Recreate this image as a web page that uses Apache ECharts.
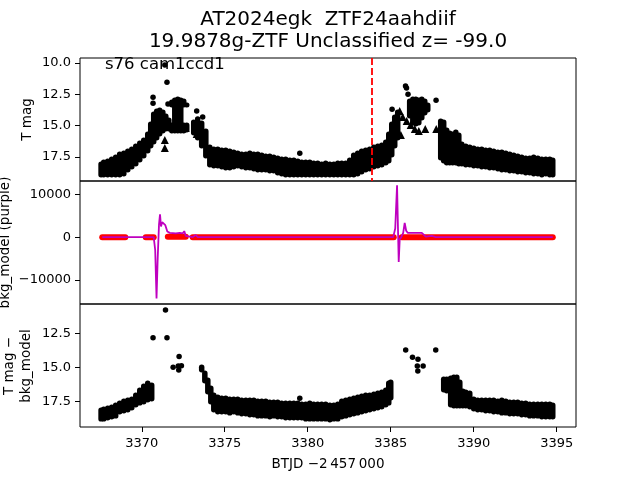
<!DOCTYPE html>
<html>
<head>
<meta charset="utf-8">
<script src="https://cdn.jsdelivr.net/npm/echarts@6/dist/echarts.min.js"></script>
<style>html,body{margin:0;padding:0;background:#fff}#c{width:640px;height:480px}</style>
</head>
<body>
<div id="c"></div>
<script>
// ---- axis ranges & ticks ----
const xRange = [3366.28, 3396.16];
const xTicks = [3370, 3375, 3380, 3385, 3390, 3395];
const magRange = [9.6, 19.42];
const magTicks = [10, 12.5, 15, 17.5];
const bkgRange = [-15600, 13100];
const bkgTicks = [-10000, 0, 10000];
const subRange = [10.37, 19.35];
const subTicks = [12.5, 15, 17.5];
const flagTime = 3383.84;

// ---- panel 1: T mag, dense band as [time, bright edge, faint edge] ----
const magBand = [
 [3367.55,17.90,19.10],[3367.71,17.74,19.10],[3367.95,17.66,19.10],[3368.19,17.50,19.10],
 [3368.43,17.34,19.10],[3368.67,17.10,19.10],[3368.92,17.02,19.02],[3369.16,16.86,18.70],
 [3369.40,16.70,18.46],[3369.64,16.46,18.22],[3369.88,16.23,17.90],[3370.12,15.99,17.58],
 [3370.36,15.51,17.18],[3370.54,14.71,16.78],[3370.72,13.91,16.46],[3370.90,13.67,16.15],
 [3371.08,13.59,15.83],[3371.27,13.75,15.59],[3371.45,14.07,15.43],[3371.63,14.39,15.43],
 [3371.81,12.95,13.51],[3371.81,14.79,15.59],[3371.99,12.79,15.59],[3372.17,12.71,15.59],
 [3372.35,12.79,15.59],[3372.53,12.87,13.51],[3372.53,14.79,15.59],[3372.71,13.19,13.51],
 [3372.71,14.79,15.51],
 [3373.13,14.55,15.75],[3373.37,14.47,16.15],[3373.61,14.63,16.78],[3373.86,15.27,17.58],
 [3374.10,16.54,18.30],[3374.34,16.70,18.38],[3374.58,16.70,18.38],[3374.82,16.78,18.46],
 [3375.06,16.78,18.54],[3375.30,16.86,18.54],[3375.54,16.94,18.46],[3375.78,17.02,18.38],
 [3376.02,17.10,18.46],[3376.27,17.10,18.54],[3376.51,17.02,18.54],[3376.75,17.10,18.62],
 [3376.99,17.10,18.70],[3377.23,17.18,18.70],[3377.47,17.26,18.70],[3377.71,17.26,18.78],
 [3377.95,17.34,18.78],[3378.19,17.42,18.94],[3378.43,17.50,19.02],[3378.67,17.50,19.10],
 [3378.92,17.58,19.10],[3379.16,17.58,19.10],[3379.40,17.66,19.10],[3379.64,17.74,19.10],
 [3379.88,17.74,19.10],[3380.12,17.74,19.10],[3380.36,17.82,19.10],[3380.60,17.82,19.10],
 [3380.84,17.90,19.10],[3381.08,17.82,19.10],[3381.33,17.90,19.10],[3381.57,17.90,19.10],
 [3381.81,17.82,19.10],[3382.05,17.82,19.10],[3382.29,17.82,19.10],[3382.53,17.58,19.10],
 [3382.77,17.18,19.10],[3383.01,17.02,19.02],[3383.25,16.86,18.86],[3383.49,16.78,18.70],
 [3383.73,16.70,18.62],[3383.98,16.54,18.46],[3384.22,16.46,18.38],[3384.46,16.38,18.30],
 [3384.70,16.15,18.14],[3384.88,15.51,17.98],[3385.06,14.71,17.50],[3385.24,14.15,16.78],
 [3385.42,13.75,16.15],
 [3386.14,12.87,14.39],[3386.33,12.71,14.95],[3386.51,12.71,15.03],[3386.69,12.79,14.95],
 [3386.87,12.71,14.55],[3387.05,12.87,14.15],[3387.23,13.19,13.91],
 [3388.01,14.47,17.74],[3388.19,14.55,17.98],[3388.37,15.19,18.14],[3388.55,15.43,18.14],
 [3388.73,15.51,18.14],[3388.92,15.35,18.14],[3389.10,15.59,18.22],[3389.28,16.30,18.22],
 [3389.52,16.46,18.30],[3389.76,16.54,18.30],[3390.00,16.62,18.38],[3390.24,16.70,18.38],
 [3390.48,16.70,18.46],[3390.72,16.78,18.46],[3390.96,16.78,18.54],[3391.20,16.86,18.54],
 [3391.45,16.94,18.62],[3391.69,16.94,18.70],[3391.93,17.02,18.70],[3392.17,17.10,18.78],
 [3392.41,17.18,18.78],[3392.65,17.26,18.86],[3392.89,17.34,18.86],[3393.13,17.42,18.94],
 [3393.37,17.42,18.94],[3393.61,17.34,19.02],[3393.86,17.42,19.02],[3394.10,17.50,19.10],
 [3394.34,17.50,19.02],[3394.58,17.50,19.10],[3394.76,17.58,19.10]
];
const magDots = [
 [3371.39,10.16],[3371.52,11.54],[3370.68,12.74],[3370.68,13.22],[3371.58,13.27],
 [3373.31,13.83],[3373.37,14.47],[3373.67,14.31],[3379.52,17.21],
 [3385.08,13.70],[3385.89,11.84],[3385.95,12.00],[3386.04,12.50],[3387.73,12.98]
];
const magLimits = [
 [3371.39,16.15],[3371.39,16.78],[3372.65,15.19],[3373.30,15.19],[3373.31,15.67],
 [3385.54,13.83],[3385.61,15.75],[3385.72,14.31],[3385.96,14.63],[3386.20,14.95],
 [3386.45,15.27],[3386.69,15.43],[3387.08,15.27],[3387.74,15.27]
];

// ---- panel 2: background model ----
const bkgCurve = [
 [3367.62,0],[3370.72,0],[3370.81,-3000],[3370.89,-14300],[3370.96,-5000],[3371.04,3000],
 [3371.10,5300],[3371.16,2500],[3371.23,3500],[3371.33,3900],[3371.42,2800],[3371.54,1300],
 [3371.69,1000],[3372.05,900],[3372.29,1000],[3372.47,900],[3372.56,1400],[3372.65,300],
 [3372.77,0],[3373.07,0],[3373.25,500],[3373.37,0],[3385.15,0],[3385.27,2000],
 [3385.38,12100],[3385.43,3000],[3385.48,-5800],[3385.54,-500],[3385.63,0],[3385.75,1000],
 [3385.84,3300],[3385.93,1500],[3386.02,1000],[3386.87,1000],[3386.99,1300],[3387.11,100],
 [3387.47,300],[3387.71,0],[3394.76,0]
];
// red points: runs of samples [start time, end time, level]
const bkgPoints = [
 [3367.62,3369.01,0],[3370.24,3370.72,0],[3371.57,3372.65,100],
 [3373.07,3385.18,0],[3385.66,3394.76,0]
];

// ---- panel 3: T mag - bkg_model ----
const subBand = [
 [3367.55,17.96,18.92],[3367.71,17.89,18.92],[3367.95,17.82,18.84],[3368.19,17.75,18.77],
 [3368.43,17.60,18.70],[3368.67,17.45,18.40],[3368.92,17.31,18.33],[3369.16,17.23,18.26],
 [3369.40,17.16,18.11],[3369.64,16.87,17.89],[3369.88,16.50,17.75],[3370.12,16.21,17.67],
 [3370.36,15.99,17.53],[3370.60,16.14,17.45],
 [3373.61,14.82,15.33],[3373.80,15.26,16.14],[3373.98,15.77,16.94],[3374.16,16.36,17.67],
 [3374.34,16.87,18.26],[3374.58,17.01,18.40],[3374.82,17.09,18.40],[3375.06,17.09,18.40],
 [3375.30,17.16,18.48],[3375.54,17.16,18.40],[3375.78,17.16,18.48],[3376.02,17.23,18.55],
 [3376.27,17.23,18.55],[3376.51,17.23,18.62],[3376.75,17.23,18.62],[3376.99,17.31,18.70],
 [3377.23,17.31,18.70],[3377.47,17.31,18.70],[3377.71,17.38,18.77],[3377.95,17.38,18.70],
 [3378.19,17.38,18.77],[3378.43,17.45,18.77],[3378.67,17.45,18.84],[3378.92,17.45,18.84],
 [3379.16,17.45,18.84],[3379.40,17.45,18.84],[3379.64,17.53,18.84],[3379.88,17.53,18.92],
 [3380.12,17.45,18.92],[3380.36,17.53,18.92],[3380.60,17.53,18.92],[3380.84,17.53,18.92],
 [3381.08,17.53,18.92],[3381.33,17.60,18.99],[3381.57,17.60,18.92],[3381.81,17.53,18.92],
 [3382.05,17.31,18.77],[3382.29,17.23,18.70],[3382.53,17.16,18.62],[3382.77,17.09,18.55],
 [3383.01,17.01,18.48],[3383.25,16.94,18.40],[3383.49,16.87,18.33],[3383.73,16.87,18.26],
 [3383.98,16.79,18.18],[3384.22,16.72,18.11],[3384.46,16.65,18.04],[3384.70,16.50,17.89],
 [3384.88,15.99,17.75],[3385.00,15.92,17.38],
 [3388.19,15.70,16.79],[3388.37,15.70,16.87],[3388.61,15.62,17.89],[3388.80,15.55,17.96],
 [3388.98,15.55,17.96],[3389.16,15.92,17.96],[3389.34,16.57,17.96],[3389.52,16.65,17.96],
 [3389.76,16.72,18.04],[3390.00,17.16,18.18],[3390.24,17.23,18.26],[3390.48,17.23,18.26],
 [3390.72,17.23,18.33],[3390.96,17.23,18.33],[3391.20,17.23,18.40],[3391.45,17.31,18.40],
 [3391.69,17.23,18.48],[3391.93,17.31,18.48],[3392.17,17.38,18.55],[3392.41,17.38,18.55],
 [3392.65,17.38,18.55],[3392.89,17.45,18.62],[3393.13,17.45,18.62],[3393.37,17.53,18.70],
 [3393.61,17.53,18.70],[3393.86,17.53,18.70],[3394.10,17.53,18.77],[3394.34,17.53,18.77],
 [3394.58,17.53,18.77],[3394.76,17.60,18.77]
];
const subDots = [
 [3371.43,10.80],[3370.68,12.84],[3371.52,12.84],[3372.25,14.21],[3371.89,14.99],
 [3372.20,14.89],[3372.23,15.18],[3372.39,14.87],[3379.52,17.25],
 [3385.90,13.72],[3386.31,14.26],[3386.64,14.40],[3386.60,14.89],[3386.63,15.26],
 [3386.95,14.89],[3387.71,13.72]
];

// ---- texts ----
const titleLines = ['AT2024egk  ZTF24aahdiif', '19.9878g-ZTF Unclassified z= -99.0'];
const sectorText = 's76 cam1ccd1';
const yNames = ['T mag', 'bkg_model (purple)', 'T mag \u2212', 'bkg_model'];
const xName = 'BTJD \u22122\u2009457\u2009000';

const FONT = '"DejaVu Sans", "Liberation Sans", sans-serif';
const L = 80, W = 496, H = 123, TOPS = [58, 181, 304];

function bandRender(params, api) {
  const t = api.value(0);
  const p1 = api.coord([t, api.value(1)]);
  const p2 = api.coord([t, api.value(2)]);
  const w = 5.5;
  const y0 = Math.min(p1[1], p2[1]) - 0.5;
  return {type: 'rect',
    shape: {x: p1[0] - w / 2, y: y0, width: w, height: Math.abs(p2[1] - p1[1]) + 1, r: 2.7},
    style: {fill: '#000'}};
}
function spanRender(params, api) {
  const p1 = api.coord([api.value(0), api.value(2)]);
  const p2 = api.coord([api.value(1), api.value(2)]);
  return {type: 'line', shape: {x1: p1[0], y1: p1[1], x2: p2[0], y2: p2[1]},
    style: {stroke: '#ff0000', lineWidth: 6, lineCap: 'round'}};
}
const minus = v => (v < 0 ? '\u2212' + Math.abs(v) : String(v));

function xAxisFor(i) {
  const bottom = i === 2;
  return {type: 'value', gridIndex: i, min: xRange[0], max: xRange[1],
    axisLine: {show: false}, splitLine: {show: false},
    axisTick: {show: bottom, inside: false, length: 5, customValues: xTicks, lineStyle: {color: '#000', width: 1}},
    axisLabel: {show: bottom, customValues: xTicks, formatter: v => String(v), margin: 10, color: '#000', fontSize: 13, fontFamily: FONT}};
}
function yAxisFor(i, range, ticks, fmt, inverse) {
  return {type: 'value', gridIndex: i, min: range[0], max: range[1], inverse: inverse,
    axisLine: {show: false}, splitLine: {show: false},
    axisTick: {show: true, inside: false, length: 5, customValues: ticks, lineStyle: {color: '#000', width: 1}},
    axisLabel: {show: true, customValues: ticks, formatter: fmt, margin: 9, color: '#000', fontSize: 13, fontFamily: FONT}};
}

const chart = echarts.init(document.getElementById('c'), null, {renderer: 'canvas'});
const textStyleBase = {fill: '#000', fontFamily: FONT};
const dotStyle = {color: '#000', opacity: 1};
chart.setOption({
  animation: false,
  backgroundColor: '#fff',
  grid: TOPS.map(t => ({left: L, top: t, width: W, height: H, show: true, borderColor: '#000', borderWidth: 1, backgroundColor: 'transparent'})),
  xAxis: [0, 1, 2].map(xAxisFor),
  yAxis: [
    yAxisFor(0, magRange, magTicks, v => v.toFixed(1), true),
    yAxisFor(1, bkgRange, bkgTicks, minus, false),
    yAxisFor(2, subRange, subTicks, v => v.toFixed(1), true)
  ],
  series: [
    {type: 'custom', xAxisIndex: 0, yAxisIndex: 0, clip: true, renderItem: bandRender,
      encode: {x: 0, y: [1, 2]}, data: magBand, z: 2,
      markLine: {silent: true, symbol: ['none', 'none'], label: {show: false},
        lineStyle: {color: '#ff0000', type: [7, 3], width: 1.8, opacity: 1},
        emphasis: {disabled: true}, data: [{xAxis: flagTime}]}},
    {type: 'scatter', xAxisIndex: 0, yAxisIndex: 0, symbol: 'circle', symbolSize: 5.5,
      itemStyle: dotStyle, data: magDots, z: 3},
    {type: 'scatter', xAxisIndex: 0, yAxisIndex: 0, symbol: 'triangle', symbolSize: 8,
      itemStyle: dotStyle, data: magLimits, z: 3},
    {type: 'custom', xAxisIndex: 1, yAxisIndex: 1, clip: true, renderItem: spanRender,
      encode: {x: [0, 1], y: 2}, data: bkgPoints, z: 2},
    {type: 'line', xAxisIndex: 1, yAxisIndex: 1, data: bkgCurve, showSymbol: false, symbol: 'none',
      lineStyle: {color: '#bf00bf', width: 1.8}, z: 4},
    {type: 'custom', xAxisIndex: 2, yAxisIndex: 2, clip: true, renderItem: bandRender,
      encode: {x: 0, y: [1, 2]}, data: subBand, z: 2},
    {type: 'scatter', xAxisIndex: 2, yAxisIndex: 2, symbol: 'circle', symbolSize: 5.5,
      itemStyle: dotStyle, data: subDots, z: 3}
  ],
  graphic: [
    {type: 'text', x: 328, y: 20, z: 10, style: Object.assign({text: titleLines[0], fontSize: 20, align: 'center', verticalAlign: 'middle'}, textStyleBase)},
    {type: 'text', x: 328, y: 42, z: 10, style: Object.assign({text: titleLines[1], fontSize: 20, align: 'center', verticalAlign: 'middle'}, textStyleBase)},
    {type: 'text', x: 105, y: 65, z: 10, style: Object.assign({text: sectorText, fontSize: 16.5, align: 'left', verticalAlign: 'middle'}, textStyleBase)},
    {type: 'text', x: 27, y: 119.5, rotation: Math.PI / 2, z: 10, style: Object.assign({text: yNames[0], fontSize: 13.5, align: 'center', verticalAlign: 'middle'}, textStyleBase)},
    {type: 'text', x: 5, y: 242.5, rotation: Math.PI / 2, z: 10, style: Object.assign({text: yNames[1], fontSize: 13.5, align: 'center', verticalAlign: 'middle'}, textStyleBase)},
    {type: 'text', x: 9, y: 366, rotation: Math.PI / 2, z: 10, style: Object.assign({text: yNames[2], fontSize: 13.5, align: 'center', verticalAlign: 'middle'}, textStyleBase)},
    {type: 'text', x: 26, y: 366, rotation: Math.PI / 2, z: 10, style: Object.assign({text: yNames[3], fontSize: 13.5, align: 'center', verticalAlign: 'middle'}, textStyleBase)},
    {type: 'text', x: 328, y: 464, z: 10, style: Object.assign({text: xName, fontSize: 13.5, align: 'center', verticalAlign: 'middle'}, textStyleBase)}
  ]
});
</script>
</body>
</html>
